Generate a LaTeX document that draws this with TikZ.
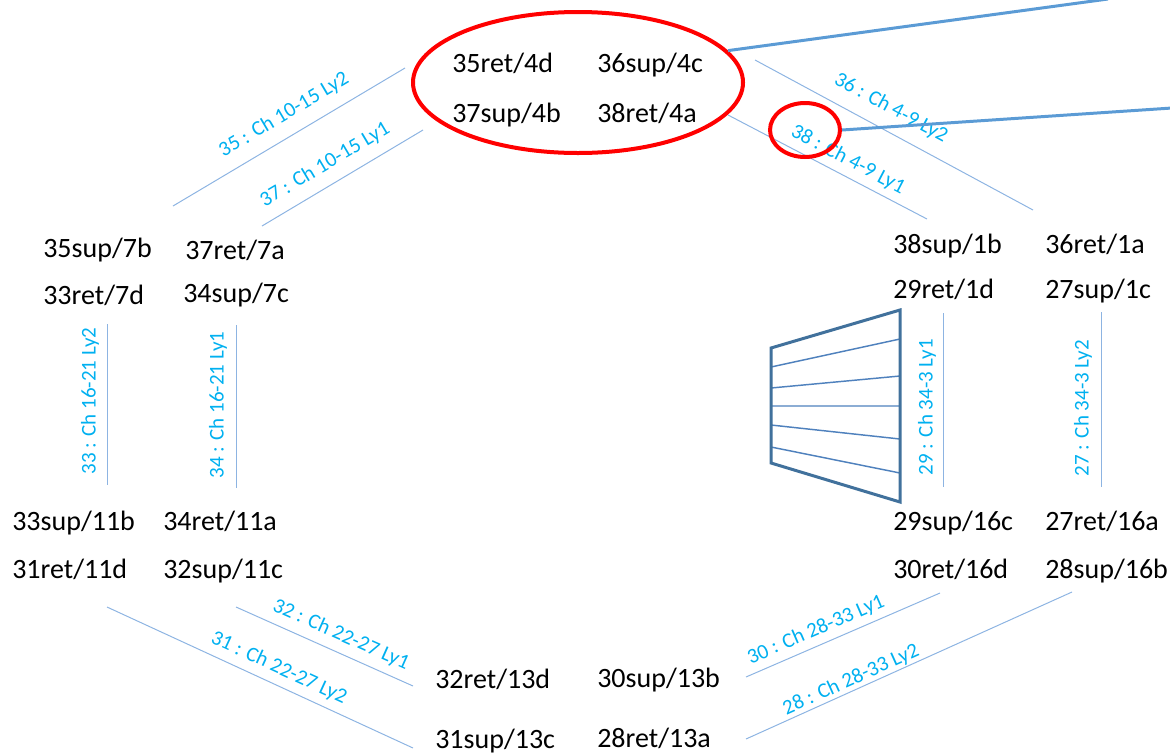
\documentclass[tikz,border=0pt]{standalone}
\usepackage{fontspec}
\setmainfont{Carlito}
\usetikzlibrary{shapes.geometric}
\definecolor{thinblue}{HTML}{8DB4E2}
\definecolor{thickblue}{HTML}{5B9BD5}
\definecolor{labblue}{HTML}{00B0F0}
\definecolor{trapblue}{HTML}{41719C}
\definecolor{traplines}{HTML}{4F81BD}
\tikzset{
  port/.style={anchor=base west, inner sep=0pt, font=\fontsize{21pt}{25pt}\selectfont, text=black},
  chlab/.style={inner sep=0pt, font=\fontsize{15.75pt}{19pt}\selectfont, text=labblue},
  chline/.style={draw=thinblue, line width=0.75pt},
  bigline/.style={draw=thickblue, line width=2.25pt},
  redring/.style={draw=red, line width=3pt, ellipse, inner sep=0pt}
}
\begin{document}
\begin{tikzpicture}[x=0.75pt,y=-0.75pt]
\useasboundingbox (0,0) rectangle (1170,754);

% top ellipse group
\node[redring, minimum width=247.5pt, minimum height=105.75pt] (bigE) at (578,82.5) {};
\node[port] (p35r4d) at (452,72) {35ret/4d};
\node[port] (p36s4c) at (597,72) {36sup/4c};
\node[port] (p37s4b) at (452,122) {37sup/4b};
\node[port] (p38r4a) at (597,122) {38ret/4a};

% left upper group
\node[port] (p35s7b) at (43,257) {35sup/7b};
\node[port] (p37r7a) at (185,259) {37ret/7a};
\node[port] (p33r7d) at (43,304) {33ret/7d};
\node[port] (p34s7c) at (183,302) {34sup/7c};

% right upper group
\node[port] (p38s1b) at (893,253) {38sup/1b};
\node[port] (p36r1a) at (1045,253) {36ret/1a};
\node[port] (p29r1d) at (893,298) {29ret/1d};
\node[port] (p27s1c) at (1045,298) {27sup/1c};

% left lower group
\node[port] (p33s11b) at (12,530) {33sup/11b};
\node[port] (p34r11a) at (163,530) {34ret/11a};
\node[port] (p31r11d) at (12,578) {31ret/11d};
\node[port] (p32s11c) at (163,578) {32sup/11c};

% right lower group
\node[port] (p29s16c) at (893,530) {29sup/16c};
\node[port] (p27r16a) at (1045,530) {27ret/16a};
\node[port] (p30r16d) at (893,578) {30ret/16d};
\node[port] (p28s16b) at (1045,578) {28sup/16b};

% bottom group
\node[port] (p32r13d) at (435,688) {32ret/13d};
\node[port] (p30s13b) at (597,687) {30sup/13b};
\node[port] (p31s13c) at (435,748) {31sup/13c};
\node[port] (p28r13a) at (597,747) {28ret/13a};

% channel lines
\coordinate (a35) at (173,206); \coordinate (b35) at (405,68);
\coordinate (a37) at (262,226); \coordinate (b37) at (423,130);
\coordinate (a36) at (755,60);  \coordinate (b36) at (1033,210);
\coordinate (a38) at (728,115); \coordinate (b38) at (927,219);
\coordinate (a33) at (107,324); \coordinate (b33) at (107,485);
\coordinate (a34) at (236,325); \coordinate (b34) at (236,488);
\coordinate (a29) at (943,313); \coordinate (b29) at (943,487);
\coordinate (a27) at (1101,312); \coordinate (b27) at (1101,487);
\coordinate (a32) at (236,607); \coordinate (b32) at (413,686);
\coordinate (a31) at (107,607); \coordinate (b31) at (413,748);
\coordinate (a30) at (746,677); \coordinate (b30) at (940,593);
\coordinate (a28) at (746,739); \coordinate (b28) at (1072,592);
\foreach \n in {35,37,36,38,33,34,29,27,32,31,30,28}
  \draw[chline] (a\n) -- (b\n);

% channel labels
\node[chlab, rotate=30.7] (l35) at (284,115) {35 : Ch 10-15 Ly2};
\node[chlab, rotate=30.8] (l37) at (325,165) {37 : Ch 10-15 Ly1};
\node[chlab, rotate=-28.4] (l36) at (891,108) {36 : Ch 4-9 Ly2};
\node[chlab, rotate=-27.6] (l38) at (848,160) {38 : Ch 4-9 Ly1};
\node[chlab, rotate=90] (l33) at (90,401) {33 : Ch 16-21 Ly2};
\node[chlab, rotate=90] (l34) at (218,405) {34 : Ch 16-21 Ly1};
\node[chlab, rotate=90] (l29) at (927,407) {29 : Ch 34-3 Ly1};
\node[chlab, rotate=90] (l27) at (1083,408) {27 : Ch 34-3 Ly2};
\node[chlab, rotate=-24] (l32) at (341,635) {32 : Ch 22-27 Ly1};
\node[chlab, rotate=-24.7] (l31) at (279,668) {31 : Ch 22-27 Ly2};
\node[chlab, rotate=23.4] (l30) at (816,630) {30 : Ch 28-33 Ly1};
\node[chlab, rotate=24.3] (l28) at (851,680) {28 : Ch 28-33 Ly2};

% small red ring
\node[redring, minimum width=52.5pt, minimum height=40.5pt] (smallE) at (805,130) {};

% thick callout lines
\coordinate (o1) at (1108,-1);
\coordinate (o2) at (1172,108);
\draw[bigline] (bigE.12.6) -- (o1);
\draw[bigline] (smallE.east) -- (o2);

% trapezoid
\draw[traplines, line width=1.1pt]
  (771,367) -- (900,339)
  (771,388) -- (900,376)
  (771,406) -- (900,406)
  (771,425) -- (900,439)
  (771,447) -- (900,473);
\draw[trapblue, line width=2.25pt, line join=miter]
  (771,348) -- (900,310) -- (900,502) -- (771,463) -- cycle;
\end{tikzpicture}
\end{document}
